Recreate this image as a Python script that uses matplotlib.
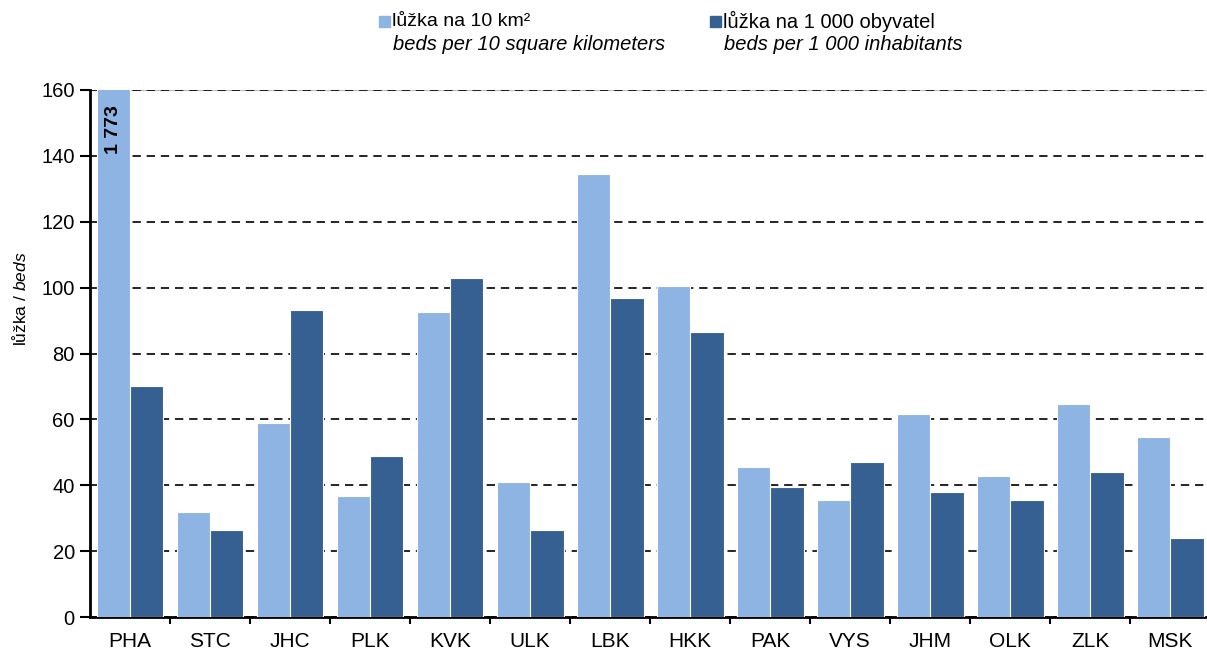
import matplotlib
matplotlib.use('Agg')
import matplotlib.pyplot as plt
import numpy as np
from matplotlib.patches import Rectangle

plt.rcParams['font.family'] = ['Liberation Sans', 'DejaVu Sans']
plt.rcParams['mathtext.fontset'] = 'custom'
plt.rcParams['mathtext.rm'] = 'Liberation Sans'
plt.rcParams['mathtext.it'] = 'Liberation Sans:italic'

# regions
regions = ['PHA', 'STC', 'JHC', 'PLK', 'KVK', 'ULK', 'LBK', 'HKK',
           'PAK', 'VYS', 'JHM', 'OLK', 'ZLK', 'MSK']
# beds per 10 km2 (PHA clipped, real value 1773)
beds_area = [1773, 32, 59, 36.7, 92.5, 41, 134.5, 100.5, 45.5, 35.5, 61.5, 42.8, 64.7, 54.6]
# beds per 1 000 inhabitants
beds_pop = [70, 26.4, 93.2, 48.9, 102.9, 26.4, 96.8, 86.5, 39.5, 47, 37.9, 35.5, 44, 24]

light = '#8EB4E3'
dark = '#376092'

fig = plt.figure(figsize=(12.07, 6.55), dpi=100)
ax = fig.add_axes([0.0746, 0.058, 0.9254, 0.8046])

x = np.arange(len(regions))
w = 0.415
ax.bar(x - 0.205, beds_area, width=w, color=light, edgecolor='white', linewidth=0.8, zorder=3)
ax.bar(x + 0.21, beds_pop, width=w, color=dark, edgecolor='white', linewidth=0.8, zorder=3)

ax.text(x[0] - 0.205, 148, '1 773', rotation=90, ha='center', va='center',
        fontsize=14, fontweight='bold', color='black', zorder=4)

ax.set_ylim(0, 160)
ax.set_xlim(-0.5, 13.46)
ax.set_yticks(range(0, 161, 20))
ax.yaxis.grid(True, linestyle=(0, (5, 3.5)), color='black', linewidth=1.2, zorder=1)
ax.axhline(160, color='#BBBBBB', linewidth=0.8, zorder=0)

ax.set_xticks(x)
ax.set_xticklabels(regions)
ax.set_xticks(np.arange(0.5, 13.5, 1), minor=True)
ax.tick_params(axis='x', which='major', length=0, pad=11, labelsize=15)
ax.tick_params(axis='x', which='minor', length=5, width=1.5)
ax.tick_params(axis='y', length=7, width=1.5, labelsize=14.5, pad=4)

for s in ['top', 'right']:
    ax.spines[s].set_visible(False)
for s in ['left', 'bottom']:
    ax.spines[s].set_linewidth(2)

fig.text(20 / 1207, 1 - 299 / 655, r'lůžka / $\it{beds}$', fontsize=12.5,
         rotation=90, ha='center', va='center')

# legend
fig.add_artist(Rectangle((379 / 1207, 1 - 27 / 655), 11 / 1207, 11 / 655,
                         transform=fig.transFigure, color=light))
fig.text(392 / 1207, 1 - 21 / 655, 'lůžka na 10 km²', fontsize=14, va='center')
fig.text(393 / 1207, 1 - 45 / 655, 'beds per 10 square kilometers', fontsize=14.5,
         va='center', style='italic')
fig.add_artist(Rectangle((710 / 1207, 1 - 27 / 655), 11 / 1207, 11 / 655,
                         transform=fig.transFigure, color=dark))
fig.text(723 / 1207, 1 - 21 / 655, 'lůžka na 1 000 obyvatel', fontsize=14.5, va='center')
fig.text(724 / 1207, 1 - 45 / 655, 'beds per 1 000 inhabitants', fontsize=14.5,
         va='center', style='italic')

fig.savefig('out.png', dpi=100)
